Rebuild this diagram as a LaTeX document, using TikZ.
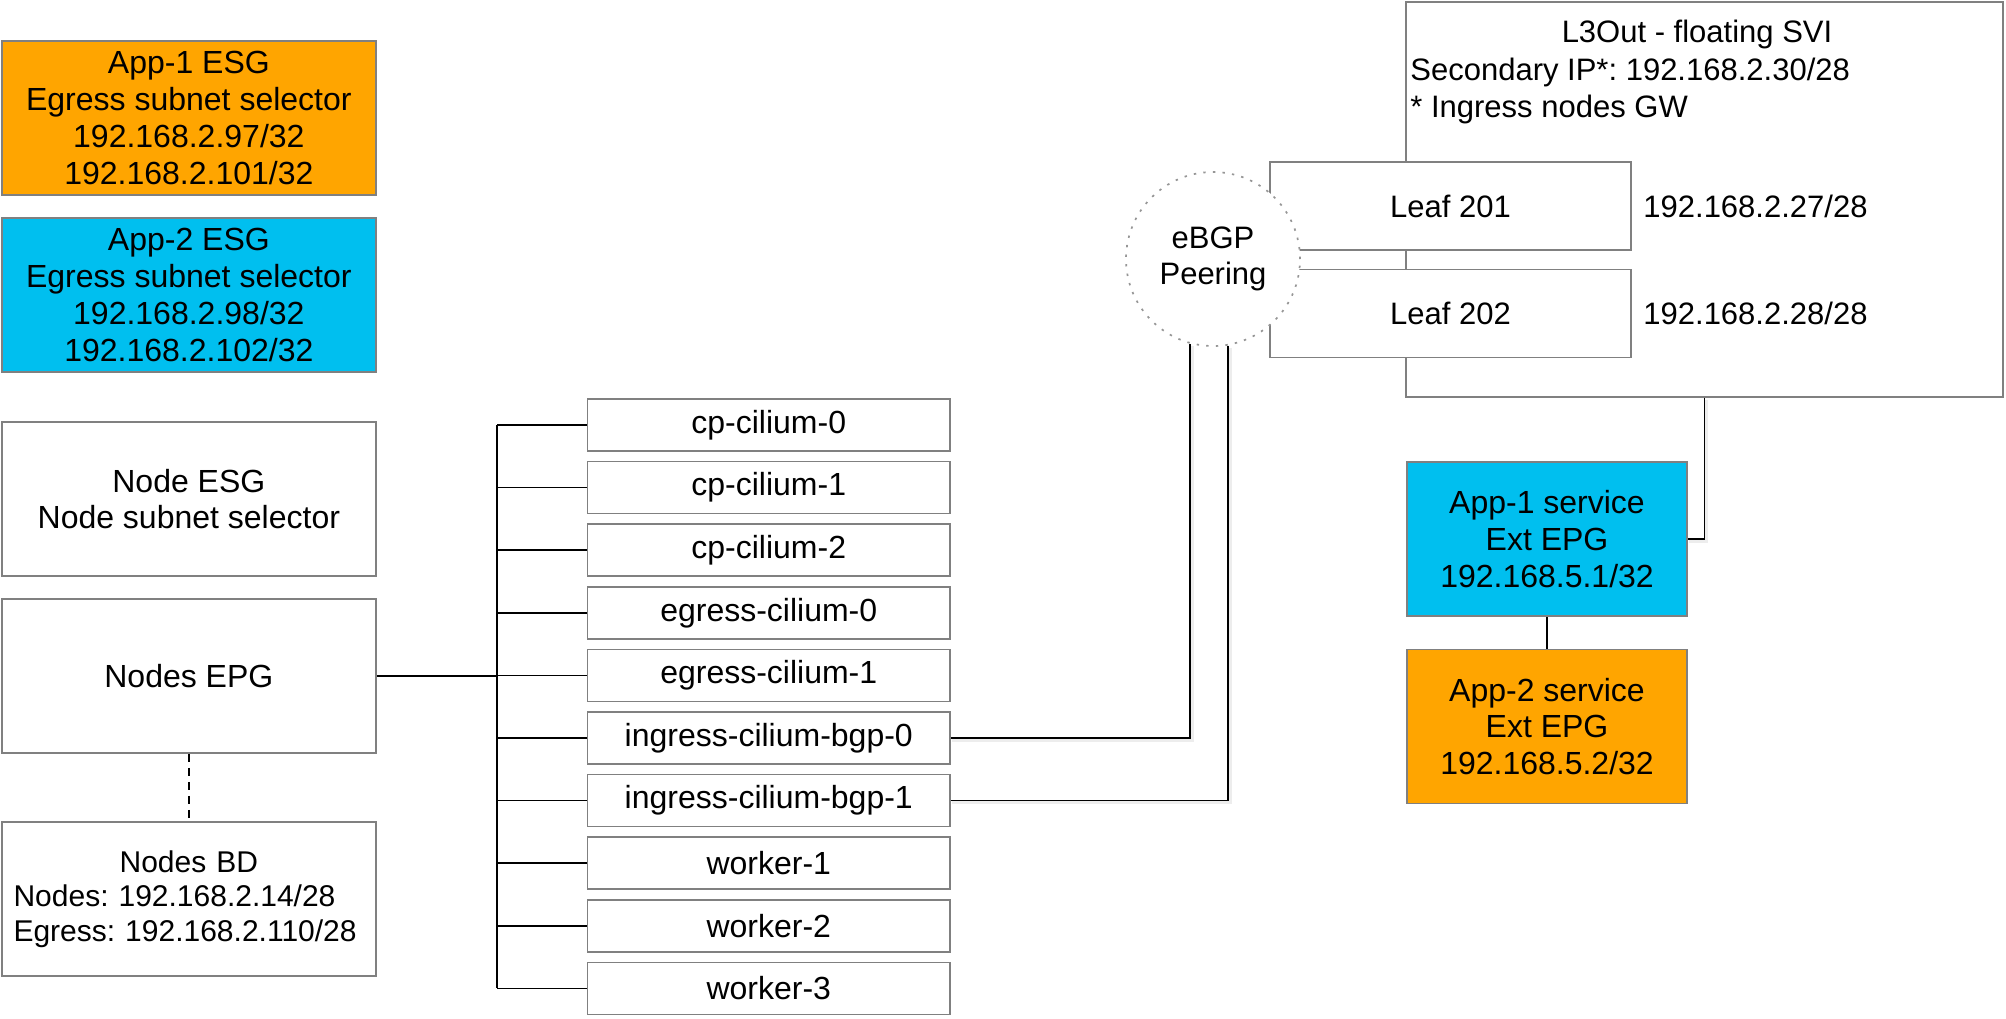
\documentclass[tikz,border=0pt]{standalone}
\usepackage{fontspec}
\setmainfont{Liberation Sans}
\frenchspacing
\definecolor{esgorange}{RGB}{255,165,0}
\definecolor{esgcyan}{RGB}{0,191,239}
\definecolor{boxgray}{RGB}{128,128,128}
\definecolor{dotgray}{RGB}{150,150,150}

\begin{document}
\begin{tikzpicture}[x=0.5pt, y=-0.5pt,
  box/.style={draw=boxgray, line width=0.85pt, fill=white, inner sep=0pt, align=center, font=\fontsize{16}{18.35}\selectfont},
  epgbox/.style={box, minimum width=187.15pt, minimum height=77pt},
  podbox/.style={box, minimum width=181.25pt, minimum height=26pt},
  leafbox/.style={box, minimum width=180.5pt, minimum height=44pt, font=\fontsize{15.5}{17.8}\selectfont},
  svcbox/.style={box, minimum width=140pt, minimum height=77pt},
  link/.style={line width=0.85pt},
  shadowlink/.style={link, preaction={draw=black!7, line width=1.8pt, transform canvas={shift={(0.8pt,-1pt)}}}},
  iptext/.style={inner sep=0pt, font=\fontsize{15.5}{17.8}\selectfont}
]
  \useasboundingbox (0,0) rectangle (2006,1018);

  % ESG / EPG / BD column
  \node[epgbox, fill=esgorange] (app1esg) at (188.85,118) {App-1 ESG\\Egress subnet selector\\192.168.2.97/32\\192.168.2.101/32};
  \node[epgbox, fill=esgcyan] (app2esg) at (188.85,295) {App-2 ESG\\Egress subnet selector\\192.168.2.98/32\\192.168.2.102/32};
  \node[epgbox] (nodeesg) at (188.85,499) {Node ESG\\Node subnet selector};
  \node[epgbox] (epg) at (188.85,676) {Nodes EPG};
  \node[epgbox, font=\fontsize{15}{17.25}\selectfont, text width=175.3pt, align=left] (bd) at (188.85,899)
    {\makebox[175.3pt]{Nodes BD}\\Nodes: 192.168.2.14/28\\Egress: 192.168.2.110/28};
  \draw[link, dash pattern=on 4pt off 3pt] (epg.south) -- (bd.north);

  % Nodes bus
  \coordinate (bus) at (496.7,0);
  \foreach \name [count=\i from 0] in {cp-cilium-0,cp-cilium-1,cp-cilium-2,egress-cilium-0,egress-cilium-1,ingress-cilium-bgp-0,ingress-cilium-bgp-1,worker-1,worker-2,worker-3}{
    \node[podbox] (pod\i) at (768.75,425+62.6*\i) {\name};
    \draw[link] (pod\i.west) -- (pod\i.west -| bus);
  }
  \draw[link] (pod0.west -| bus) -- (pod9.west -| bus);
  \draw[link] (epg.east) -- (epg.east -| bus);

  % L3Out and leaves
  \node[box, minimum width=298.5pt, minimum height=197.5pt] (l3out) at (1704.5,199.5) {};
  \node[iptext, anchor=base] (l3title) at (1697,42.7) {L3Out - floating SVI};
  \node[iptext, anchor=base west] (l3sec) at (1410,80) {Secondary IP*: 192.168.2.30/28};
  \node[iptext, anchor=base west] (l3gw) at (1410,117) {* Ingress nodes GW};
  \node[leafbox] (leaf201) at (1450.5,206) {Leaf 201};
  \node[leafbox] (leaf202) at (1450.5,313.5) {Leaf 202};
  \node[iptext, anchor=west] (ip201) at (1643,206) {192.168.2.27/28};
  \node[iptext, anchor=west] (ip202) at (1643,313.5) {192.168.2.28/28};

  % eBGP peering
  \node[circle, draw=dotgray, line width=0.85pt, dash pattern=on 1.2pt off 3.6pt, fill=white, minimum size=87pt, inner sep=0pt, align=center, font=\fontsize{15.5}{18.15}\selectfont] (ebgp) at (1213,259) {eBGP\\Peering};
  \draw[shadowlink] (ebgp.-105) |- (pod5.east);
  \draw[shadowlink] (ebgp.-80) |- (pod6.east);

  % Services
  \node[svcbox, fill=esgcyan] (svc1) at (1547,539) {App-1 service\\Ext EPG\\192.168.5.1/32};
  \node[svcbox, fill=esgorange] (svc2) at (1547,726.5) {App-2 service\\Ext EPG\\192.168.5.2/32};
  \draw[shadowlink] (l3out.south) |- (svc1.east);
  \draw[link] (svc1.south) -- (svc2.north);
\end{tikzpicture}
\end{document}
